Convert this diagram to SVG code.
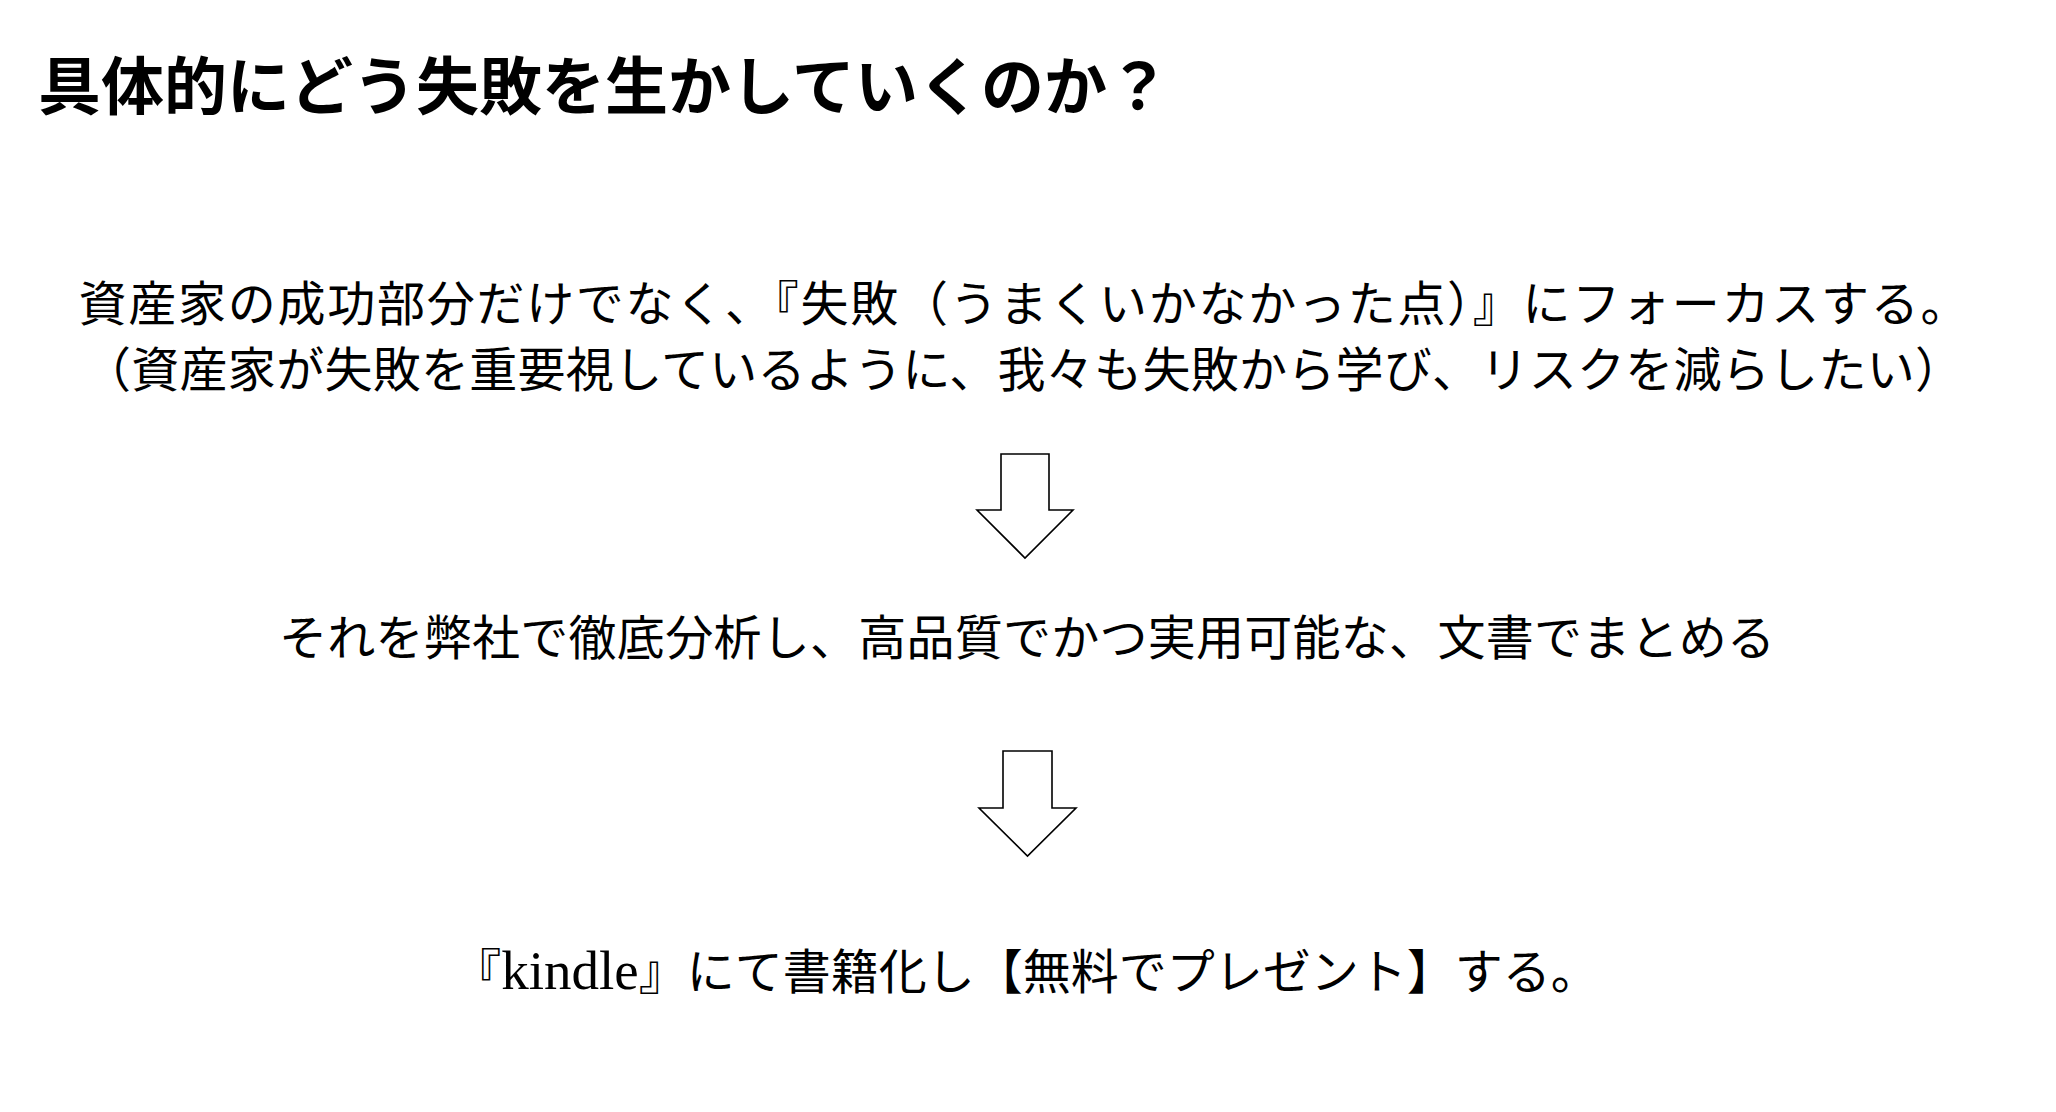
<svg xmlns="http://www.w3.org/2000/svg" width="2056" height="1112" viewBox="0 0 2056 1112">
<style>
.t{font-family:"Liberation Serif","Noto Sans CJK JP",serif;fill:#000}
.title{font-size:63px;font-weight:bold}
.body{font-size:48px;text-anchor:middle}
.arrow{fill:#fff;stroke:#000;stroke-width:1.6;stroke-linejoin:miter}
</style>
<rect width="2056" height="1112" fill="#fff"/>
<g id="title">
<text class="t title" x="38" y="109">具体的にどう失敗を生かしていくのか？</text>
</g>
<g id="node-focus">
<text class="t body" x="1023.5" y="321" textLength="1890" lengthAdjust="spacing">資産家の成功部分だけでなく、『失敗（うまくいかなかった点）』にフォーカスする。</text>
<text class="t body" x="1023" y="387" textLength="1880" lengthAdjust="spacing">（資産家が失敗を重要視しているように、我々も失敗から学び、リスクを減らしたい）</text>
</g>
<g id="node-analyze">
<text class="t body" x="1027" y="655" textLength="1496" lengthAdjust="spacing">それを弊社で徹底分析し、高品質でかつ実用可能な、文書でまとめる</text>
</g>
<g id="node-kindle">
<text class="t body" x="1026" y="989">『<tspan font-size="55">kindle</tspan>』にて書籍化し【無料でプレゼント】する。</text>
</g>
<g id="connectors">
<polygon class="arrow" points="1001,454 1049,454 1049,510 1073,510 1025,558 977,510 1001,510"/>
<polygon class="arrow" points="1003,751 1052,751 1052,808 1076,808 1027.5,856 979,808 1003,808"/>
</g>
</svg>
